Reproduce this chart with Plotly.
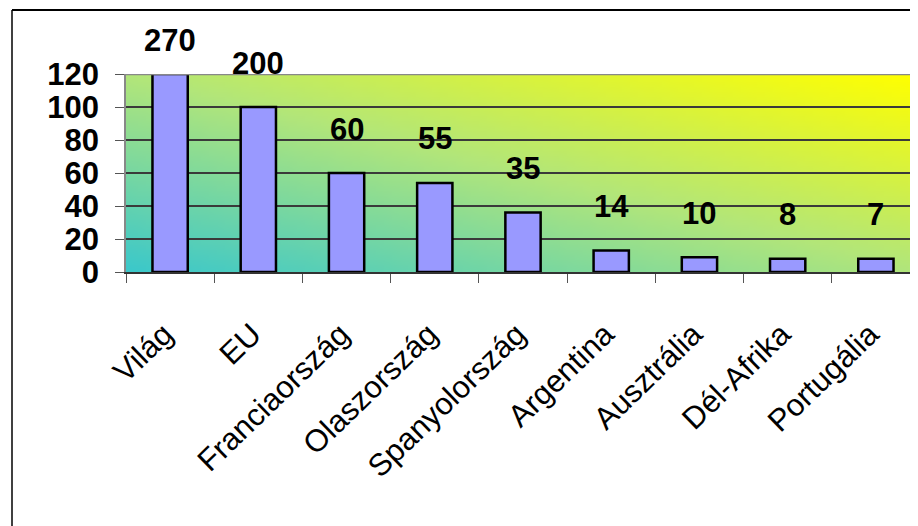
import base64, struct, zlib
import plotly.graph_objects as go

# ---- data ----
categories = ["Világ", "EU", "Franciaország", "Olaszország", "Spanyolország",
              "Argentina", "Ausztrália", "Dél-Afrika", "Portugália"]
bar_heights = [120, 100, 60, 54, 36, 13, 9, 8, 8]
value_labels = ["270", "200", "60", "55", "35", "14", "10", "8", "7"]
y_ticks = [0, 20, 40, 60, 80, 100, 120]

# ---- style / layout ----
W, H = 918, 526
ML, MR, MT, MB = 118, 6, 66, 262
PW, PH = W - ML - MR, H - MT - MB
FONT = "Liberation Sans, Arial, sans-serif"
label_shift = [34] + [44] * (len(categories) - 1)


def gradient_png(w, h, stops):
    def col(t):
        for (t0, c0), (t1, c1) in zip(stops[:-1], stops[1:]):
            if t <= t1:
                f = (t - t0) / (t1 - t0)
                return bytes(int(round(c0[k] + (c1[k] - c0[k]) * f)) for k in range(3))
        return bytes(stops[-1][1])

    rows = []
    for j in range(h):
        v = 1 - j / (h - 1)
        row = bytearray([0])
        for i in range(w):
            u = i / (w - 1)
            row += col((u + v) / 2)
        rows.append(bytes(row))
    raw = b"".join(rows)

    def chunk(tag, data):
        c = struct.pack(">I", len(data)) + tag + data
        return c + struct.pack(">I", zlib.crc32(tag + data) & 0xffffffff)

    png = b"\x89PNG\r\n\x1a\n"
    png += chunk(b"IHDR", struct.pack(">IIBBBBB", w, h, 8, 2, 0, 0, 0))
    png += chunk(b"IDAT", zlib.compress(raw, 9))
    png += chunk(b"IEND", b"")
    return "data:image/png;base64," + base64.b64encode(png).decode()


bg = gradient_png(100, 40, [(0.0, (60, 200, 202)), (0.5, (178, 230, 122)),
                            (1.0, (255, 255, 0))])

fig = go.Figure()
fig.add_trace(go.Bar(
    x=categories, y=bar_heights, width=0.4,
    marker=dict(color="#9999FF", line=dict(color="black", width=2.5)),
    hoverinfo="skip",
))

for cat, h, lab, sh in zip(categories, bar_heights, value_labels, label_shift):
    fig.add_annotation(x=cat, y=h, text="<b>" + lab + "</b>", showarrow=False, yshift=sh,
                       font=dict(family=FONT, size=31, color="black"))

fig.add_layout_image(dict(source=bg, xref="paper", yref="paper", x=0, y=1,
                          sizex=1, sizey=1, sizing="stretch", layer="below",
                          xanchor="left", yanchor="top"))

# outer frame (top and left edges visible)
fx = (4 - ML) / PW
fy = (H - MB - 2) / PH
fig.add_shape(type="line", xref="paper", yref="paper", x0=fx, x1=1.2, y0=fy, y1=fy,
              line=dict(color="black", width=2))
fig.add_shape(type="line", xref="paper", yref="paper", x0=fx, x1=fx, y0=fy, y1=-2,
              line=dict(color="black", width=1.5))
# top border of plot area
fig.add_shape(type="line", xref="paper", yref="y", x0=0, x1=1.1, y0=120, y1=120,
              line=dict(color="#888888", width=2.5))

fig.update_layout(
    width=W, height=H,
    margin=dict(l=ML, r=MR, t=MT, b=MB, pad=0),
    paper_bgcolor="white", plot_bgcolor="rgba(0,0,0,0)",
    showlegend=False,
    font=dict(family=FONT, color="black"),
)
fig.update_xaxes(
    range=[-0.5, 8.5], showgrid=False, tickson="boundaries",
    ticks="outside", ticklen=9, tickwidth=1.2, tickcolor="#555555",
    showline=True, linecolor="#333333", linewidth=1.5,
    tickangle=-44, tickfont=dict(family=FONT, size=31, color="black"),
    ticklabelstandoff=30, ticklabelshift=-6,
)
fig.update_yaxes(
    range=[0, 120], tickvals=y_ticks, ticktext=["<b>%d</b>" % v for v in y_ticks],
    showgrid=True, gridcolor="#3a3a3a", gridwidth=1.5,
    ticks="outside", ticklen=9, tickwidth=1.2, tickcolor="#555555",
    showline=True, linecolor="#888888", linewidth=1.5,
    tickfont=dict(family=FONT, size=31, color="black"), ticklabelstandoff=10,
    zeroline=False,
)

fig.write_html("out.html")
